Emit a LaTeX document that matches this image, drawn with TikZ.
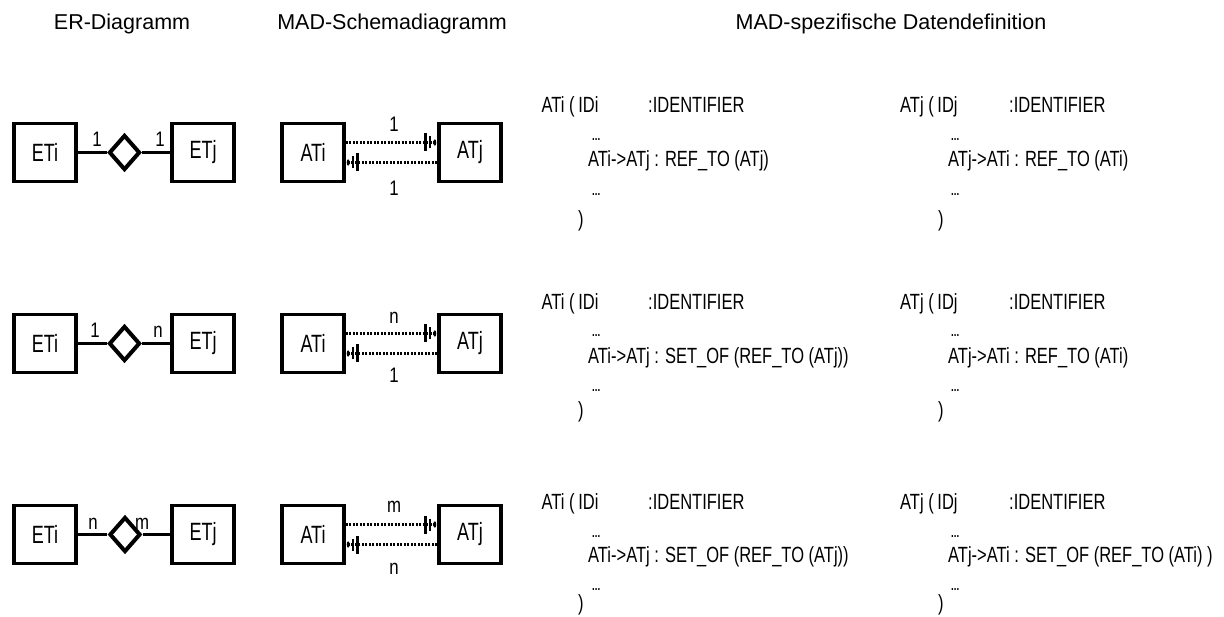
\documentclass[tikz,border=0pt]{standalone}
\usepackage{fontspec}
\setmainfont{Liberation Sans}
\newfontfamily\codefont[FakeStretch=0.75]{Liberation Sans}
\newfontfamily\boxfont[FakeStretch=0.72]{Liberation Sans}
\newfontfamily\cardfont[FakeStretch=0.8]{Liberation Sans}
\usetikzlibrary{arrows.meta,shapes.geometric}
\begin{document}
\begin{tikzpicture}[x=1pt,y=-1pt,
  box/.style={draw,line width=3.5pt,minimum width=62pt,minimum height=58pt,inner sep=0pt,font=\boxfont\fontsize{25}{25}\selectfont},
  rel/.style={draw,diamond,line width=4pt,minimum width=31pt,minimum height=35pt,inner sep=0pt,aspect=1},
  erline/.style={line width=3pt},
  card/.style={font=\cardfont\fontsize{21}{21}\selectfont,inner sep=0pt},
  ptr/.style={line width=3pt,dash pattern=on 2pt off 1.5pt,-{Bar[width=18pt,line width=2.5pt,sep=2pt]Bar[width=12pt,line width=2.5pt,sep=3pt]Arc Barb[length=2pt,width=7pt,line width=1.8pt,sep=1pt]}},
  title/.style={font=\fontsize{21.5}{22}\selectfont,inner sep=0pt,anchor=base},
  code/.style={font=\codefont\fontsize{22}{22}\selectfont,inner sep=0pt,anchor=base west},
  dots/.style={font=\codefont\bfseries\fontsize{13}{13}\selectfont,inner sep=0pt,anchor=base west}
]
\useasboundingbox (0,0) rectangle (1224,617);

% titles
\node[title] (t1) at (122,30) {ER-Diagramm};
\node[title] (t2) at (392,30) {MAD-Schemadiagramm};
\node[title] (t3) at (891,30) {MAD-spezifische Datendefinition};

% ---------- row 1 ----------
\node[box] (e1i) at (45,152.5) {ETi};
\node[box] (e1j) at (203,152.5) {ETj};
\node[rel] (r1) at (124.5,152.5) {};
\draw[erline] (e1i) -- (r1);
\draw[erline] (r1) -- (e1j);
\node[card] (c1a) at (97,139.5) {1};
\node[card] (c1b) at (160,139.5) {1};

\node[box] (a1i) at (313,152.5) {ATi};
\node[box] (a1j) at (470,152.5) {ATj};
\draw[ptr] ([yshift=10pt]a1i.east) -- ([yshift=10pt]a1j.west);
\draw[ptr] ([yshift=-10pt]a1j.west) -- ([yshift=-10pt]a1i.east);
\node[card] (m1a) at (394,124) {1};
\node[card] (m1b) at (394,188) {1};

% ---------- row 2 ----------
\node[box] (e2i) at (45,343.5) {ETi};
\node[box] (e2j) at (203,343.5) {ETj};
\node[rel] (r2) at (124.5,343.5) {};
\draw[erline] (e2i) -- (r2);
\draw[erline] (r2) -- (e2j);
\node[card] (c2a) at (95,330) {1};
\node[card] (c2b) at (158,332) {n};

\node[box] (a2i) at (313,343.5) {ATi};
\node[box] (a2j) at (470,343.5) {ATj};
\draw[ptr] ([yshift=10pt]a2i.east) -- ([yshift=10pt]a2j.west);
\draw[ptr] ([yshift=-10pt]a2j.west) -- ([yshift=-10pt]a2i.east);
\node[card] (m2a) at (394,318) {n};
\node[card] (m2b) at (394,375) {1};

% ---------- row 3 ----------
\node[box] (e3i) at (45,534.5) {ETi};
\node[box] (e3j) at (203,534.5) {ETj};
\node[rel] (r3) at (125,534.5) {};
\draw[erline] (e3i) -- (r3);
\draw[erline] (r3) -- (e3j);
\node[card] (c3a) at (93,524) {n};
\node[card] (c3b) at (142,524) {m};

\node[box] (a3i) at (313,534.5) {ATi};
\node[box] (a3j) at (470,534.5) {ATj};
\draw[ptr] ([yshift=10pt]a3i.east) -- ([yshift=10pt]a3j.west);
\draw[ptr] ([yshift=-10pt]a3j.west) -- ([yshift=-10pt]a3i.east);
\node[card] (m3a) at (394,507) {m};
\node[card] (m3b) at (394,569) {n};

% ---------- code, row 1 ----------
\node[code] (p1a) at (541.5,113) {ATi (\,IDi};
\node[code] (p1b) at (648,113) {:IDENTIFIER};
\node[dots] (p1c) at (592,141) {...};
\node[code] (p1d) at (588,167) {ATi->ATj : REF\_TO (ATj)};
\node[dots] (p1e) at (592,196) {...};
\node[code] (p1f) at (578,227) {)};

\node[code] (q1a) at (900,113) {ATj (\,IDj};
\node[code] (q1b) at (1009,113) {:IDENTIFIER};
\node[dots] (q1c) at (951,141) {...};
\node[code] (q1d) at (948,167) {ATj->ATi : REF\_TO (ATi)};
\node[dots] (q1e) at (951,196) {...};
\node[code] (q1f) at (938,227) {)};

% ---------- code, row 2 ----------
\node[code] (p2a) at (541.5,310) {ATi (\,IDi};
\node[code] (p2b) at (648,310) {:IDENTIFIER};
\node[dots] (p2c) at (592,337) {...};
\node[code] (p2d) at (588,364) {ATi->ATj : SET\_OF (REF\_TO (ATj))};
\node[dots] (p2e) at (592,392) {...};
\node[code] (p2f) at (578,418) {)};

\node[code] (q2a) at (900,310) {ATj (\,IDj};
\node[code] (q2b) at (1009,310) {:IDENTIFIER};
\node[dots] (q2c) at (951,337) {...};
\node[code] (q2d) at (948,364) {ATj->ATi : REF\_TO (ATi)};
\node[dots] (q2e) at (951,392) {...};
\node[code] (q2f) at (938,418) {)};

% ---------- code, row 3 ----------
\node[code] (p3a) at (541.5,509) {ATi (\,IDi};
\node[code] (p3b) at (648,509) {:IDENTIFIER};
\node[dots] (p3c) at (592,537) {...};
\node[code] (p3d) at (588,562) {ATi->ATj : SET\_OF (REF\_TO (ATj))};
\node[dots] (p3e) at (592,590) {...};
\node[code] (p3f) at (578,610.5) {)};

\node[code] (q3a) at (900,509) {ATj (\,IDj};
\node[code] (q3b) at (1009,509) {:IDENTIFIER};
\node[dots] (q3c) at (951,537) {...};
\node[code] (q3d) at (948,562) {ATj->ATi : SET\_OF (REF\_TO (ATi) )};
\node[dots] (q3e) at (951,590) {...};
\node[code] (q3f) at (938,610.5) {)};
\end{tikzpicture}
\end{document}
